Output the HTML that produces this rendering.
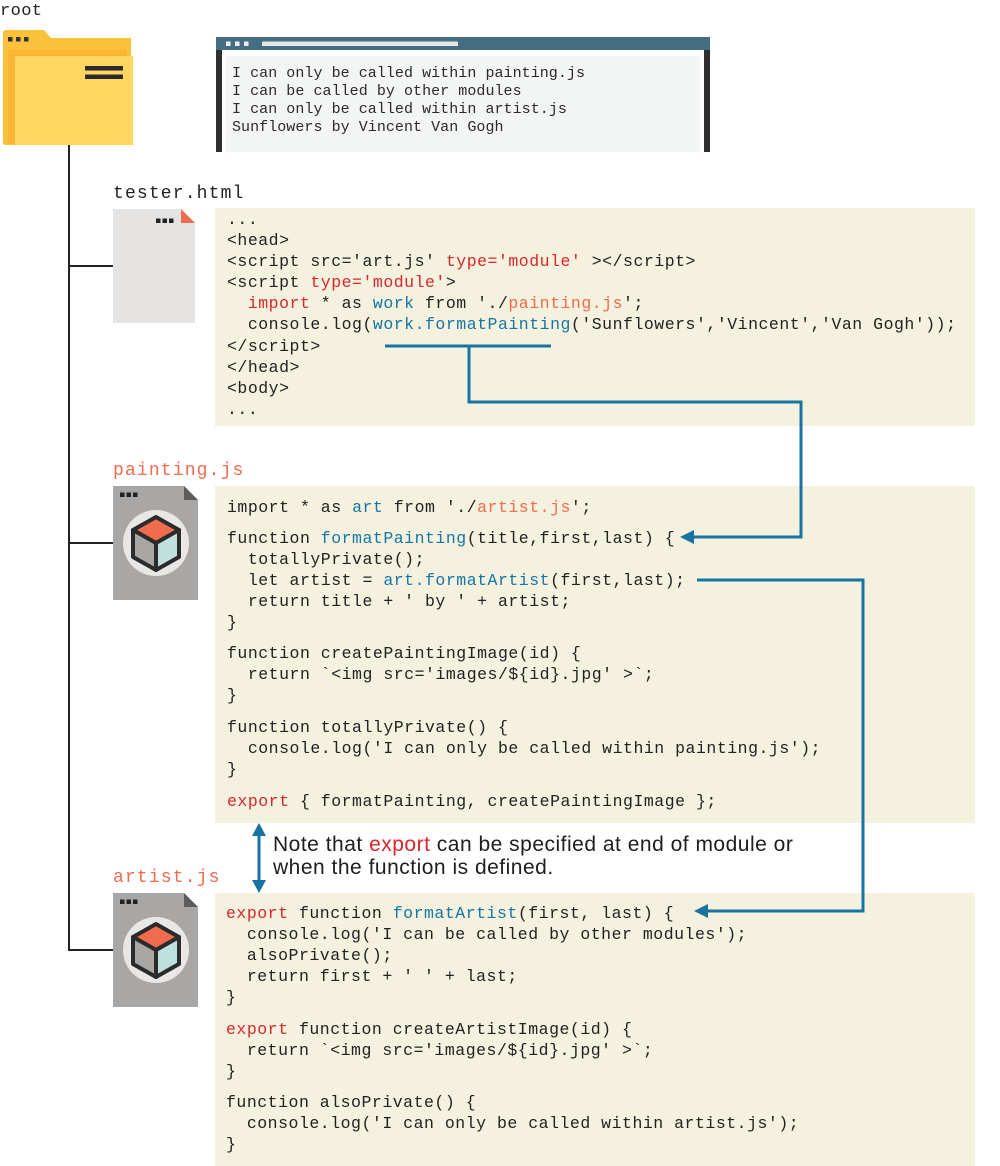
<!DOCTYPE html>
<html><head><meta charset="utf-8">
<style>
html,body{margin:0;padding:0;background:#fff;}
body{width:1000px;height:1166px;position:relative;overflow:hidden;}
svg{position:absolute;left:0;top:0;}
.l{position:absolute;height:21px;line-height:21px;white-space:pre;font-family:"Liberation Mono",monospace;font-size:16.5px;letter-spacing:0.52px;color:#222;margin-top:1px;}
.b{position:absolute;height:18px;line-height:18px;white-space:pre;font-family:"Liberation Mono",monospace;font-size:15px;letter-spacing:0.05px;color:#2a2a2a;margin-top:1px;}
.lab{position:absolute;height:24px;line-height:24px;white-space:pre;font-family:"Liberation Mono",monospace;font-size:18px;letter-spacing:1.15px;color:#222;margin-top:2px;}
.r{color:#d8262c;}
.s{color:#ef6c4d;}
.u{color:#1676a6;}
.note{position:absolute;left:273px;height:24px;line-height:24px;white-space:pre;font-family:"Liberation Sans",sans-serif;font-size:21px;letter-spacing:0.5px;color:#1e1e1e;}
</style></head>
<body>
<svg width="1000" height="1166" viewBox="0 0 1000 1166">
  <rect x="215" y="208" width="760" height="218" fill="#f4f1df"/>
  <rect x="215" y="486" width="760" height="337" fill="#f4f1df"/>
  <rect x="215" y="893" width="760" height="273" fill="#f4f1df"/>

  <g stroke="#222" stroke-width="2" fill="none">
    <line x1="69" y1="145" x2="69" y2="951"/>
    <line x1="68" y1="266" x2="113" y2="266"/>
    <line x1="68" y1="543" x2="113" y2="543"/>
    <line x1="68" y1="950" x2="113" y2="950"/>
  </g>

  <path d="M3,33 Q3,30 6,30 L44,30 L51,38 L131,38 L131,145 L6,145 Q3,145 3,142 Z" fill="#fbc13c"/>
  <rect x="8" y="50" width="119" height="94" fill="#fbb532"/>
  <rect x="15" y="56" width="118" height="89" fill="#fed660"/>
  <rect x="8" y="37" width="4.5" height="4.5" fill="#333"/>
  <rect x="16" y="37" width="4.5" height="4.5" fill="#333"/>
  <rect x="24" y="37" width="4.5" height="4.5" fill="#333"/>
  <rect x="85" y="66" width="38" height="4.5" fill="#2b2b2b"/>
  <rect x="85" y="74.5" width="38" height="4.5" fill="#2b2b2b"/>

  <rect x="216" y="37" width="494" height="13" fill="#466e83"/>
  <rect x="216" y="50" width="6" height="102" fill="#2f2f2f"/>
  <rect x="704" y="50" width="6" height="102" fill="#2f2f2f"/>
  <rect x="226" y="56" width="474" height="96" fill="#f3f5f4"/>
  <rect x="226" y="41.5" width="4.5" height="4.5" fill="#e8eef0"/>
  <rect x="235" y="41.5" width="4.5" height="4.5" fill="#e8eef0"/>
  <rect x="244" y="41.5" width="4.5" height="4.5" fill="#e8eef0"/>
  <rect x="262" y="41.5" width="196" height="4.5" fill="#e3e6e7"/>

  <polygon points="113,209 181,209 195,223 195,323 113,323" fill="#e5e4e3"/>
  <polygon points="181,209 181,223 195,223" fill="#ef6c4d"/>
  <rect x="156" y="218.5" width="4.5" height="4.5" fill="#222"/>
  <rect x="162.5" y="218.5" width="4.5" height="4.5" fill="#222"/>
  <rect x="169" y="218.5" width="4.5" height="4.5" fill="#222"/>

  <g id="jsicon">
    <polygon points="113,486 184,486 198,500 198,600 113,600" fill="#a8a7a5"/>
    <polygon points="184,486 184,500 198,500" fill="#5e5c5a"/>
    <rect x="120" y="492.5" width="4.5" height="4.5" fill="#222"/>
    <rect x="126.5" y="492.5" width="4.5" height="4.5" fill="#222"/>
    <rect x="133" y="492.5" width="4.5" height="4.5" fill="#222"/>
    <circle cx="156" cy="543" r="33" fill="#e8e7e5"/>
    <g stroke="#2b2b2b" stroke-width="4" stroke-linejoin="round">
      <polygon points="156,517 179,530 156,543 133,530" fill="#ef6c4d"/>
      <polygon points="133,530 156,543 156,570 133,557" fill="#a8a7a5"/>
      <polygon points="156,543 179,530 179,557 156,570" fill="#bfe0dc"/>
    </g>
  </g>
  <use href="#jsicon" transform="translate(0,407)"/>

  <g stroke="#1873a3" stroke-width="3" fill="none" stroke-linejoin="miter">
    <line x1="385" y1="346" x2="551" y2="346"/>
    <polyline points="469,346 469,402 801,402 801,537 692,537"/>
    <polyline points="697,580 863,580 863,911 706,911"/>
    <line x1="259" y1="833" x2="259" y2="883"/>
  </g>
  <g fill="#1873a3">
    <polygon points="680,537 694,530 694,544"/>
    <polygon points="694,911 708,904 708,918"/>
    <polygon points="259,823 252,836 266,836"/>
    <polygon points="259,893 252,880 266,880"/>
  </g>
</svg>

<div class="lab" style="left:0;top:-2px;font-size:17px;letter-spacing:0.4px;">root</div>
<div class="lab" style="left:113px;top:180px;">tester.html</div>
<div class="lab s" style="left:113px;top:457px;">painting.js</div>
<div class="lab s" style="left:113px;top:864px;">artist.js</div>

<div class="b" style="left:232px;top:64px;">I can only be called within painting.js</div>
<div class="b" style="left:232px;top:82px;">I can be called by other modules</div>
<div class="b" style="left:232px;top:100px;">I can only be called within artist.js</div>
<div class="b" style="left:232px;top:118px;">Sunflowers by Vincent Van Gogh</div>

<div class="l" style="left:227px;top:207.5px;">...</div>
<div class="l" style="left:227px;top:228.5px;">&lt;head&gt;</div>
<div class="l" style="left:227px;top:249.5px;">&lt;script src='art.js' <span class="r">type='module'</span> &gt;&lt;/script&gt;</div>
<div class="l" style="left:227px;top:270.5px;">&lt;script <span class="r">type='module'</span>&gt;</div>
<div class="l" style="left:227px;top:292px;">  <span class="r">import</span> * as <span class="u">work</span> from './<span class="s">painting.js</span>';</div>
<div class="l" style="left:227px;top:313px;">  console.log(<span class="u">work.formatPainting</span>('Sunflowers','Vincent','Van Gogh'));</div>
<div class="l" style="left:227px;top:334.5px;">&lt;/script&gt;</div>
<div class="l" style="left:227px;top:355.5px;">&lt;/head&gt;</div>
<div class="l" style="left:227px;top:377px;">&lt;body&gt;</div>
<div class="l" style="left:227px;top:398px;">...</div>

<div class="l" style="left:227px;top:495.5px;">import * as <span class="u">art</span> from './<span class="s">artist.js</span>';</div>
<div class="l" style="left:227px;top:526.5px;">function <span class="u">formatPainting</span>(title,first,last) {</div>
<div class="l" style="left:227px;top:547.5px;">  totallyPrivate();</div>
<div class="l" style="left:227px;top:568.5px;">  let artist = <span class="u">art.formatArtist</span>(first,last);</div>
<div class="l" style="left:227px;top:589.5px;">  return title + ' by ' + artist;</div>
<div class="l" style="left:227px;top:610.5px;">}</div>
<div class="l" style="left:227px;top:641.5px;">function createPaintingImage(id) {</div>
<div class="l" style="left:227px;top:662.5px;">  return `&lt;img src='images/${id}.jpg' &gt;`;</div>
<div class="l" style="left:227px;top:683.5px;">}</div>
<div class="l" style="left:227px;top:715.5px;">function totallyPrivate() {</div>
<div class="l" style="left:227px;top:736.5px;">  console.log('I can only be called within painting.js');</div>
<div class="l" style="left:227px;top:757.5px;">}</div>
<div class="l" style="left:227px;top:789.5px;"><span class="r">export</span> { formatPainting, createPaintingImage };</div>

<div class="note" style="top:833px;">Note that <span class="r">export</span> can be specified at end of module or</div>
<div class="note" style="top:856px;">when the function is defined.</div>

<div class="l" style="left:226px;top:901.5px;"><span class="r">export</span> function <span class="u">formatArtist</span>(first, last) {</div>
<div class="l" style="left:226px;top:922.5px;">  console.log('I can be called by other modules');</div>
<div class="l" style="left:226px;top:943.5px;">  alsoPrivate();</div>
<div class="l" style="left:226px;top:964.5px;">  return first + ' ' + last;</div>
<div class="l" style="left:226px;top:985.5px;">}</div>
<div class="l" style="left:226px;top:1017.5px;"><span class="r">export</span> function createArtistImage(id) {</div>
<div class="l" style="left:226px;top:1038.5px;">  return `&lt;img src='images/${id}.jpg' &gt;`;</div>
<div class="l" style="left:226px;top:1059.5px;">}</div>
<div class="l" style="left:226px;top:1090.5px;">function alsoPrivate() {</div>
<div class="l" style="left:226px;top:1111.5px;">  console.log('I can only be called within artist.js');</div>
<div class="l" style="left:226px;top:1132.5px;">}</div>
</body></html>
